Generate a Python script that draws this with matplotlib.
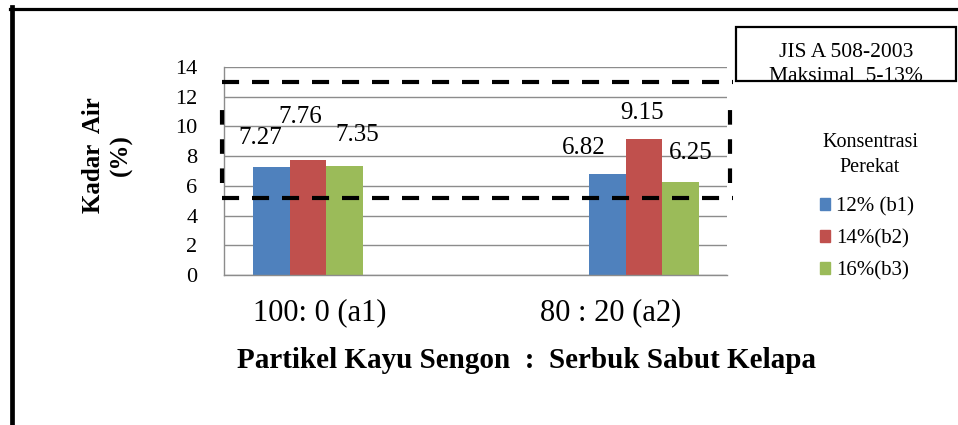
import matplotlib
matplotlib.use('Agg')
import matplotlib.pyplot as plt
from matplotlib.patches import Patch, Rectangle
from matplotlib.lines import Line2D
import matplotlib.transforms as mtransforms
import numpy as np

plt.rcParams['font.family'] = ['Liberation Serif', 'DejaVu Serif']

# ---- data ----
categories = ['100: 0 (a1)', '80 : 20 (a2)']
series_names = ['12% (b1)', '14%(b2)', '16%(b3)']
legend_title = 'Konsentrasi\nPerekat'
b1 = [7.27, 6.82]
b2 = [7.76, 9.15]
b3 = [7.35, 6.25]
jis_limits = [5.2, 13.0]
yticks = [0, 2, 4, 6, 8, 10, 12, 14]

# ---- style ----
colors = ['#4F81BD', '#C0504D', '#9BBB59']
bar_w = 0.11
# label offsets (pixels) relative to bar top
label_dx = [[-11, -23], [-8, -2], [12, 10]]
label_dy = [[29, 26], [43, 26], [31, 29]]
tick_dx = [12, -33]

W, H = 958, 425
fig = plt.figure(figsize=(W / 100, H / 100), dpi=100)
ax = fig.add_axes([224 / W, 1 - 275 / H, 503 / W, 208 / H])

x = np.arange(len(categories))
series = [b1, b2, b3]
for i, (vals, c) in enumerate(zip(series, colors)):
    xs = x + (i - 1) * bar_w
    ax.bar(xs, vals, width=bar_w, color=c, zorder=2)
    for j, (xx, v) in enumerate(zip(xs, vals)):
        ax.annotate(f'{v:.2f}', xy=(xx, v), xytext=(label_dx[i][j] * 0.72, label_dy[i][j] * 0.72),
                    textcoords='offset points', ha='center', va='center', fontsize=18, zorder=3)

ax.set_xlim(-0.25, 1.247)
ax.set_ylim(0, 14)
ax.set_yticks(yticks)
ax.yaxis.grid(True, color='#8c8c8c', lw=1)
ax.set_axisbelow(True)
for s in ['top', 'right']:
    ax.spines[s].set_visible(False)
for s in ['left', 'bottom']:
    ax.spines[s].set_color('#8c8c8c')
    ax.spines[s].set_linewidth(1)
ax.tick_params(axis='y', length=0, labelsize=16, pad=19)
ax.tick_params(axis='x', length=0, labelsize=22, pad=16.5)
ax.set_xticks(x)
ax.set_xticklabels(categories)
for lbl, dx in zip(ax.get_xticklabels(), tick_dx):
    lbl.set_transform(lbl.get_transform() + mtransforms.ScaledTranslation(dx / 100, 0, fig.dpi_scale_trans))

ax.set_xlabel('Partikel Kayu Sengon  :  Serbuk Sabut Kelapa', fontsize=21, fontweight='bold')
ax.xaxis.set_label_coords(0.602, -0.409)
ax.xaxis.label.set_va('center')
ax.set_ylabel('Kadar  Air\n(%)', fontsize=18, fontweight='bold')
ax.yaxis.set_label_coords(-0.2316, 0.577)
ax.yaxis.label.set_va('center')

# JIS dashed box
dash = (4.1, 3.1)
for yv in jis_limits:
    ax.plot([-0.004, 1.012], [yv, yv], transform=ax.get_yaxis_transform(), clip_on=False,
            color='black', lw=3, dashes=dash, zorder=4)
for xf in [-0.004, 1.006]:
    ax.plot([xf, xf], [jis_limits[0] + 1, jis_limits[1] - 1], transform=ax.get_yaxis_transform(),
            clip_on=False, color='black', lw=3, dashes=(3.5, 3.5), zorder=4)

# outer frame
fig.add_artist(Line2D([11.5 / W, 11.5 / W], [0, 1 - 7 / H], transform=fig.transFigure, color='black', lw=3.4))
fig.add_artist(Line2D([9.5 / W, 1], [1 - 8.5 / H, 1 - 8.5 / H], transform=fig.transFigure, color='black', lw=2.3))

# JIS box
rect = Rectangle((736 / W, 1 - 81 / H), 220 / W, 54 / H, transform=fig.transFigure,
                 fill=False, ec='black', lw=1.6, zorder=5)
fig.add_artist(rect)
fig.text(846 / W, 1 - 57 / H, 'JIS A 508-2003', ha='center', va='baseline', fontsize=15.5)
t2 = fig.text(846 / W, 1 - 81 / H, 'Maksimal  5-13%', ha='center', va='baseline', fontsize=15.5)
t2.set_clip_path(rect)

# legend
fig.text(870 / W, 1 - 155 / H, legend_title, ha='center', va='center', fontsize=14.5,
         linespacing=1.45, multialignment='center')
handles = [Patch(color=c) for c in colors]
fig.legend(handles, series_names, loc='upper left',
           bbox_to_anchor=(820 / W, 1 - 197.5 / H), frameon=False, fontsize=15,
           borderpad=0, borderaxespad=0,
           handlelength=0.5, handleheight=0.5, handletextpad=0.29, labelspacing=0.6)

fig.savefig('out.png', dpi=100)
